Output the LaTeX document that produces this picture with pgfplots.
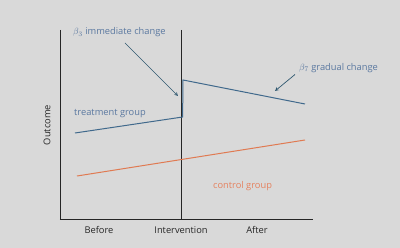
\documentclass[border=0pt]{standalone}
\usepackage{pgfplots}
\pgfplotsset{compat=1.18}
\usepackage{fontspec}
\setmainfont{Open Sans}
\definecolor{bgc}{HTML}{D9D9D9}
\definecolor{treat}{HTML}{40698C}
\definecolor{treattxt}{HTML}{5A78A0}
\definecolor{ctrl}{HTML}{E07A52}
\definecolor{ctrltxt}{HTML}{E5825F}
\definecolor{arr}{HTML}{2F5870}
\definecolor{axc}{HTML}{262626}
\newcommand{\lf}{\fontsize{9.3}{11}\selectfont}
\begin{document}
\begin{tikzpicture}[x=1pt,y=1pt]
\fill[bgc] (0,0) rectangle (400,248);
\begin{axis}[
  at={(60pt,29pt)}, anchor=south west,
  scale only axis, width=253pt, height=189pt,
  xmin=60, xmax=313, ymin=30, ymax=219, y dir=reverse,
  axis x line*=bottom, axis y line*=left,
  axis line style={-, axc, line width=0.8pt},
  xtick={99,181,257}, xticklabels={Before,Intervention,After},
  ytick=\empty,
  major tick length=0pt,
  xticklabel style={font=\lf, text=axc, yshift=-4pt},
  clip=false,
]
\addplot[axc, line width=0.8pt] coordinates {(181.7,30) (181.7,219)};
\addplot[treat, line width=1pt] coordinates {(75,133) (182.6,117) (183,80) (305,104)};
\addplot[ctrl, line width=1pt] coordinates {(77,176) (305,140)};
\node[rotate=90, font=\lf, text=axc] at (axis cs:47,125) {Outcome};
\node[anchor=west, font=\lf, text=treattxt, inner sep=0pt] at (axis cs:73,32.5) {$\beta_3$ immediate change};
\node[anchor=west, font=\lf, text=treattxt, inner sep=0pt] at (axis cs:74,113.5) {treatment group};
\node[anchor=west, font=\lf, text=treattxt, inner sep=0pt] at (axis cs:299,68) {$\beta_7$ gradual change};
\node[anchor=west, font=\lf, text=ctrltxt, inner sep=0pt] at (axis cs:213,186) {control group};
\draw[arr, line width=0.7pt, -stealth] (axis cs:125,43) -- (axis cs:178,96);
\draw[arr, line width=0.7pt, -stealth] (axis cs:295,74.5) -- (axis cs:275,91);
\end{axis}
\end{tikzpicture}
\end{document}
